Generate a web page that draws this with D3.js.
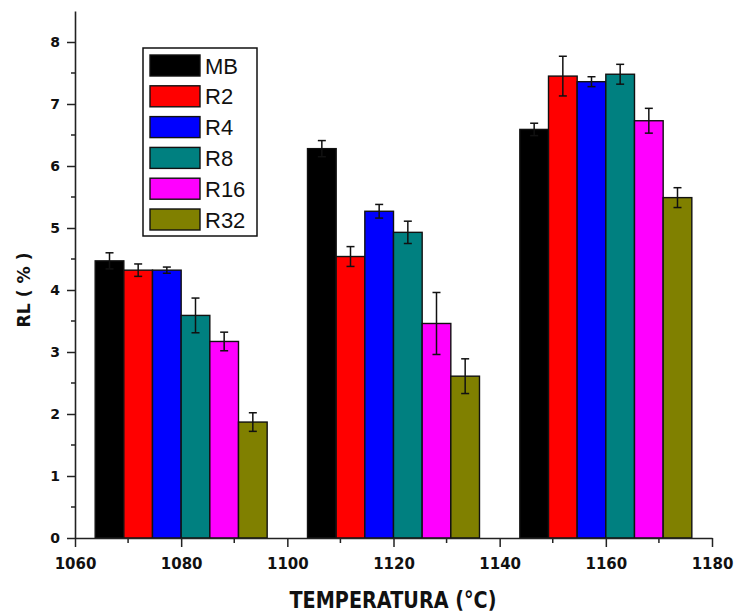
<!DOCTYPE html>
<html>
<head>
<meta charset="utf-8">
<script src="https://cdn.jsdelivr.net/npm/d3@7"></script>
<style>
  body { margin: 0; background: #fff; }
  svg { display: block; }
</style>
</head>
<body>
<script>
// data
const temperatures = [1080, 1120, 1160];
const series = ["MB", "R2", "R4", "R8", "R16", "R32"];
const colors = ["#000000", "#ff0000", "#0000ff", "#008080", "#ff00ff", "#808000"];
// one row per series, one value per temperature
const values = [
  [4.47, 6.28, 6.59],
  [4.32, 4.54, 7.45],
  [4.32, 5.27, 7.36],
  [3.59, 4.93, 7.48],
  [3.17, 3.46, 6.73],
  [1.87, 2.61, 5.49]
];
const errors = [
  [0.13, 0.13, 0.10],
  [0.10, 0.16, 0.32],
  [0.05, 0.11, 0.08],
  [0.28, 0.18, 0.16],
  [0.15, 0.50, 0.20],
  [0.15, 0.28, 0.16]
];
const xTicks = [1060, 1080, 1100, 1120, 1140, 1160, 1180];
const yTicks = [0, 1, 2, 3, 4, 5, 6, 7, 8];

const width = 734, height = 613;
const plotL = 75, plotR = 712, plotB = 538, plotT = 11;

const svg = d3.select("body").append("svg")
  .attr("width", width)
  .attr("height", height);

const x = d3.scaleLinear().domain([1060, 1180]).range([plotL, plotR]);
const y = d3.scaleLinear().domain([0, 8.5]).range([plotB, plotT]);
// offset of each series inside a group, in degrees
const inner = d3.scaleBand().domain(series).range([-16.2, 16.2]).paddingInner(0);

const rows = [];
series.forEach((s, i) => {
  temperatures.forEach((t, j) => {
    rows.push({s: s, i: i, t: t, v: values[i][j], e: errors[i][j]});
  });
});

// bars
svg.append("g").selectAll("rect")
  .data(rows)
  .enter().append("rect")
    .attr("x", d => x(d.t + inner(d.s)))
    .attr("width", d => x(d.t + inner(d.s) + inner.bandwidth()) - x(d.t + inner(d.s)))
    .attr("y", d => y(d.v))
    .attr("height", d => y(0) - y(d.v))
    .attr("fill", d => colors[d.i])
    .attr("stroke", "#111")
    .attr("stroke-width", 1.4);

// error bars
const errG = svg.append("g").attr("stroke", "#111").attr("stroke-width", 1.5);
const cx = d => x(d.t + inner(d.s) + inner.bandwidth() / 2);
errG.selectAll("line.v").data(rows).enter().append("line")
  .attr("x1", cx).attr("x2", cx)
  .attr("y1", d => y(d.v + d.e)).attr("y2", d => y(d.v - d.e));
errG.selectAll("line.top").data(rows).enter().append("line")
  .attr("x1", d => cx(d) - 4).attr("x2", d => cx(d) + 4)
  .attr("y1", d => y(d.v + d.e)).attr("y2", d => y(d.v + d.e));
errG.selectAll("line.bot").data(rows).enter().append("line")
  .attr("x1", d => cx(d) - 4).attr("x2", d => cx(d) + 4)
  .attr("y1", d => y(d.v - d.e)).attr("y2", d => y(d.v - d.e));

// minor ticks
const minorY = d3.range(0.5, 8.5, 1);
svg.append("g").attr("stroke", "#222").attr("stroke-width", 1.5)
  .selectAll("line").data(minorY).enter().append("line")
    .attr("x1", plotL - 4).attr("x2", plotL)
    .attr("y1", d => y(d)).attr("y2", d => y(d));
const minorX = d3.range(1070, 1180, 20);
svg.append("g").attr("stroke", "#222").attr("stroke-width", 1.5)
  .selectAll("line").data(minorX).enter().append("line")
    .attr("x1", d => x(d)).attr("x2", d => x(d))
    .attr("y1", plotB).attr("y2", plotB + 5);

// axes
const yAxis = d3.axisLeft(y).tickValues(yTicks).tickSize(8).tickSizeOuter(0).tickPadding(7);
const xAxis = d3.axisBottom(x).tickValues(xTicks).tickSize(9).tickSizeOuter(0).tickPadding(11)
  .tickFormat(d3.format("d"));

const gy = svg.append("g").attr("transform", "translate(" + plotL + ",0)").call(yAxis);
const gx = svg.append("g").attr("transform", "translate(0," + plotB + ")").call(xAxis);
[gx, gy].forEach(g => {
  g.select(".domain").attr("stroke", "#222").attr("stroke-width", 1.6);
  g.selectAll(".tick line").attr("stroke", "#222").attr("stroke-width", 1.5);
  g.selectAll(".tick text")
    .attr("font-family", "DejaVu Sans")
    .attr("font-weight", "bold")
    .attr("font-size", 14)
    .attr("fill", "#111");
});
gx.selectAll(".tick text").attr("font-size", 15);

// axis titles
svg.append("text")
  .attr("x", 393).attr("y", 608)
  .attr("text-anchor", "middle")
  .attr("font-family", "DejaVu Sans")
  .attr("font-weight", "bold")
  .attr("font-size", 23)
  .attr("textLength", 207)
  .attr("lengthAdjust", "spacingAndGlyphs")
  .attr("fill", "#111")
  .text("TEMPERATURA (°C)");

svg.append("text")
  .attr("transform", "translate(30,290) rotate(-90)")
  .attr("text-anchor", "middle")
  .attr("font-family", "DejaVu Sans")
  .attr("font-weight", "bold")
  .attr("font-size", 17)
  .attr("textLength", 75)
  .attr("lengthAdjust", "spacingAndGlyphs")
  .attr("fill", "#111")
  .text("RL ( % )");

// legend
const legend = svg.append("g");
legend.append("rect")
  .attr("x", 143).attr("y", 48).attr("width", 114).attr("height", 188)
  .attr("fill", "#fff").attr("stroke", "#111").attr("stroke-width", 1.5);
const items = legend.selectAll("g.item").data(series).enter().append("g")
  .attr("transform", (d, i) => "translate(150," + (55 + i * 30.8) + ")");
items.append("rect")
  .attr("width", 50).attr("height", 21)
  .attr("fill", (d, i) => colors[i])
  .attr("stroke", "#111").attr("stroke-width", 1.4);
items.append("text")
  .attr("x", 55).attr("y", 18.5)
  .attr("font-family", "Liberation Sans, Arial, sans-serif")
  .attr("font-size", 22)
  .attr("fill", "#111")
  .text(d => d);
</script>
</body>
</html>
